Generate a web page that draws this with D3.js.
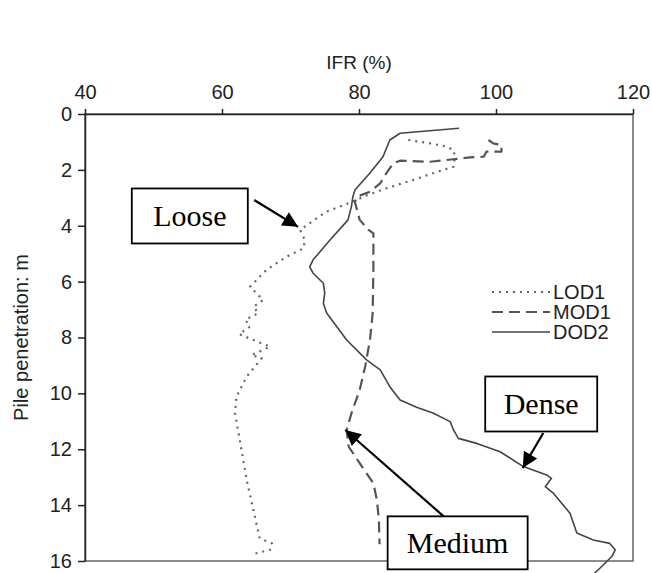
<!DOCTYPE html>
<html>
  <head>
    <meta charset="utf-8">
    <title>IFR vs pile penetration</title>
    <script src="https://d3js.org/d3.v7.min.js"></script>
    <style>
      body { margin: 0; background: #fff; }
      .tick text { font-family: Arial, "Liberation Sans", sans-serif; font-size: 20px; fill: #222; }
      .axisTitle { font-family: Arial, "Liberation Sans", sans-serif; font-size: 19px; fill: #222; }
      .legend text { font-family: Arial, "Liberation Sans", sans-serif; font-size: 20px; fill: #222; }
      .note text { font-family: "Times New Roman", "Liberation Serif", serif; font-size: 30px; fill: #000; }
    </style>
  </head>
  <body>
    <svg id="chart" width="652" height="573"></svg>
    <script>
      // data: depth (m) and IFR (%)
      const lodDepth = [0.93, 1.05, 1.17, 1.29, 1.53, 1.89, 2.0, 2.36, 2.66, 2.96, 3.08, 3.5, 4.15, 4.51, 4.81, 5.11, 5.58, 6.18, 6.66, 6.9, 7.13, 7.37, 7.61, 7.88, 8.33, 8.63, 8.74, 9.4, 10.12, 10.71, 11.67, 13.1, 14.41, 15.19, 15.37, 15.6, 15.75];
      const lodIfr = [87.2, 90.4, 92.8, 93.8, 94.0, 93.8, 92.3, 87.9, 84.0, 80.6, 79.7, 75.2, 71.4, 72.1, 71.9, 69.4, 66.5, 64.1, 66.0, 64.6, 65.3, 63.4, 64.1, 62.5, 67.0, 64.3, 65.8, 63.6, 62.1, 61.9, 62.6, 63.6, 64.8, 65.5, 67.3, 67.0, 64.6];

      const modDepth = [0.93, 1.05, 1.11, 1.35, 1.35, 1.53, 1.55, 1.62, 1.71, 1.67, 1.77, 2.12, 2.48, 2.78, 2.96, 3.15, 3.79, 4.15, 4.27, 5.47, 7.13, 8.09, 9.04, 9.88, 10.71, 11.31, 11.91, 12.5, 13.22, 13.8, 14.5, 15.4];
      const modIfr = [98.9, 99.6, 100.8, 100.8, 98.6, 98.2, 96.2, 93.8, 90.4, 86.0, 85.0, 84.0, 83.1, 81.6, 79.7, 79.4, 80.1, 81.4, 82.1, 82.1, 82.0, 81.6, 80.9, 80.1, 78.9, 78.2, 78.5, 80.1, 82.1, 82.6, 82.9, 83.0];

      const dodDepth = [0.51, 0.69, 0.93, 1.53, 2.11, 2.72, 2.97, 3.3, 3.79, 4.5, 5.22, 5.47, 5.7, 6.06, 6.41, 6.78, 7.13, 8.09, 8.8, 9.16, 9.76, 10.24, 10.5, 10.7, 11.01, 11.31, 11.61, 11.79, 12.09, 12.62, 12.92, 13.04, 13.34, 13.58, 14.29, 15.0, 15.25, 15.37, 15.6, 15.84, 16.25, 16.43];
      const dodIfr = [94.6, 86.0, 84.5, 83.5, 81.6, 79.4, 79.1, 78.9, 78.4, 75.8, 73.3, 72.8, 73.3, 74.8, 75.0, 74.8, 75.3, 78.2, 81.1, 83.1, 84.5, 86.0, 88.4, 90.8, 93.3, 93.8, 94.5, 97.2, 100.6, 104.0, 107.4, 108.1, 107.2, 108.4, 110.8, 111.8, 114.2, 116.6, 117.4, 116.9, 115.2, 114.4];

      const seriesNames = ["LOD1", "MOD1", "DOD2"];
      const xTicks = [40, 60, 80, 100, 120];
      const yTicks = [0, 2, 4, 6, 8, 10, 12, 14, 16];

      // callouts: label, box centre, arrow tail and tip, all in (IFR, depth)
      const noteLabels = ["Loose", "Dense", "Medium"];
      const noteBox = [[55.3, 3.65], [106.6, 10.38], [94.4, 15.35]];
      const noteTail = [[64.7, 3.08], [106.9, 11.42], [92.4, 14.41]];
      const noteTip = [[71.1, 4.04], [103.9, 12.67], [78.0, 11.31]];

      const svg = d3.select("#chart");
      const margin = { top: 114, right: 19, bottom: 12, left: 85 };
      const width = 652 - margin.left - margin.right;
      const height = 573 - margin.top - margin.bottom;

      const x = d3.scaleLinear().domain([40, 120]).range([margin.left, margin.left + width]);
      const y = d3.scaleLinear().domain([0, 16]).range([margin.top, margin.top + height]);

      svg.append("defs").append("marker")
        .attr("id", "head")
        .attr("viewBox", "0 0 10 10")
        .attr("refX", 10).attr("refY", 5)
        .attr("markerWidth", 8).attr("markerHeight", 7)
        .attr("markerUnits", "strokeWidth")
        .attr("orient", "auto")
        .append("path")
          .attr("d", "M0,0 L10,5 L0,10 Z")
          .attr("fill", "#000");

      // frame
      svg.append("rect")
        .attr("x", x(40)).attr("y", y(0))
        .attr("width", x(120) - x(40)).attr("height", y(16) - y(0))
        .attr("fill", "none").attr("stroke", "#666").attr("stroke-width", 1.5);

      svg.append("g")
        .attr("transform", "translate(0," + y(0) + ")")
        .call(d3.axisTop(x).tickValues(xTicks).tickSizeInner(5).tickSizeOuter(0).tickPadding(10));
      svg.append("g")
        .attr("transform", "translate(" + x(40) + ",0)")
        .call(d3.axisLeft(y).tickValues(yTicks).tickSizeInner(7).tickSizeOuter(0).tickPadding(6));
      svg.selectAll(".domain, .tick line").attr("stroke", "#222").attr("stroke-width", 1.5);

      svg.append("text").attr("class", "axisTitle")
        .attr("x", x(80)).attr("y", 69).attr("text-anchor", "middle").text("IFR (%)");
      svg.append("text").attr("class", "axisTitle")
        .attr("transform", "translate(28," + y(8) + ") rotate(-90)")
        .attr("text-anchor", "middle").style("font-size", "20px").text("Pile penetration: m");

      // curves
      const line = d3.line().x(d => x(d[1])).y(d => y(d[0]));
      const styles = [
        { dash: "2,5", color: "#666", w: 2.2 },
        { dash: "11,6", color: "#555", w: 2.2 },
        { dash: null, color: "#444", w: 1.6 }
      ];
      const series = [
        d3.zip(lodDepth, lodIfr),
        d3.zip(modDepth, modIfr),
        d3.zip(dodDepth, dodIfr)
      ];
      series.forEach((s, i) => {
        svg.append("path")
          .attr("d", line(s))
          .attr("fill", "none")
          .attr("stroke", styles[i].color)
          .attr("stroke-width", styles[i].w)
          .attr("stroke-dasharray", styles[i].dash)
          .attr("stroke-linejoin", "round");
      });

      // legend
      const legend = svg.append("g").attr("class", "legend");
      seriesNames.forEach((name, i) => {
        const ly = 292 + i * 20;
        legend.append("line")
          .attr("x1", 492).attr("x2", 550).attr("y1", ly).attr("y2", ly)
          .attr("stroke", styles[i].color)
          .attr("stroke-width", styles[i].w)
          .attr("stroke-dasharray", styles[i].dash);
        legend.append("text").attr("x", 553).attr("y", ly).attr("dy", "0.35em").text(name);
      });

      // callouts
      const boxSize = [[116, 55], [112, 55], [140, 53]];
      noteLabels.forEach((label, i) => {
        const g = svg.append("g").attr("class", "note");
        g.append("line")
          .attr("x1", x(noteTail[i][0])).attr("y1", y(noteTail[i][1]))
          .attr("x2", x(noteTip[i][0])).attr("y2", y(noteTip[i][1]))
          .attr("stroke", "#000").attr("stroke-width", 2.2)
          .attr("marker-end", "url(#head)");
        const cx = x(noteBox[i][0]), cy = y(noteBox[i][1]);
        g.append("rect")
          .attr("x", cx - boxSize[i][0] / 2).attr("y", cy - boxSize[i][1] / 2)
          .attr("width", boxSize[i][0]).attr("height", boxSize[i][1])
          .attr("fill", "#fff").attr("stroke", "#000").attr("stroke-width", 1.8);
        g.append("text")
          .attr("x", cx).attr("y", cy).attr("dy", "0.35em")
          .attr("text-anchor", "middle").text(label);
      });
    </script>
  </body>
</html>
